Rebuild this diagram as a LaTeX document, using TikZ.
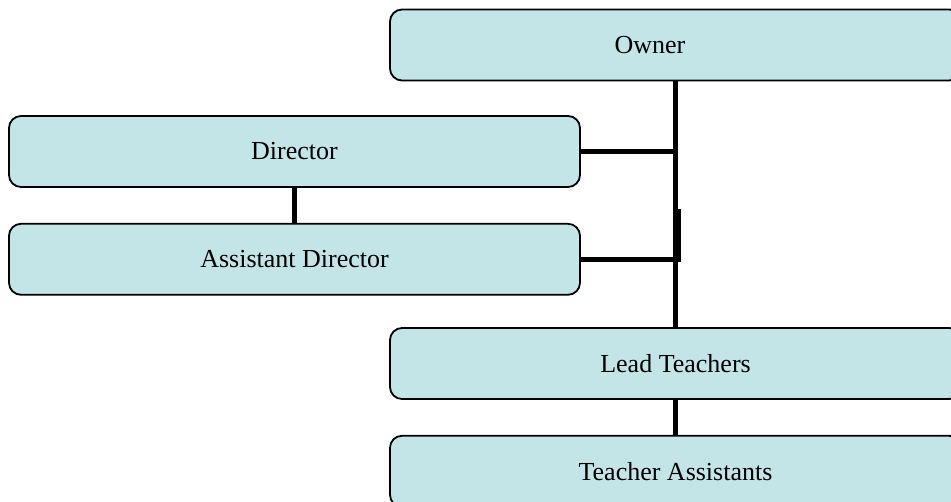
\documentclass[tikz,border=0pt]{standalone}
\usepackage{fontspec}
\setmainfont{Liberation Serif}
\usetikzlibrary{positioning}
\usepackage{xcolor}
\definecolor{boxfill}{RGB}{196,229,232}

\begin{document}
\begin{tikzpicture}[x=0.5pt,y=-0.5pt,
        rolebox/.style={draw=black,line width=0.9pt,fill=boxfill,rounded corners=6pt,
            minimum width=285.5pt,minimum height=35.5pt,inner sep=0pt,
            font=\fontsize{13}{15}\selectfont},
        link/.style={line width=2.8pt,black}]
            \def\W{951}
            \def\H{502}
            \clip (0,0) rectangle (\W,\H);

            \node[rolebox] (owner) at (675.5,45) {};
            \node[font=\fontsize{13}{15}\selectfont] (ownerlabel) at (650,45) {Owner};
            \node[rolebox] (director) at (294.5,151.5) {Director};
            \node[rolebox, below=17.5pt of director] (asst) {Assistant Director};
            \node[rolebox] (lead) at (675.5,363.5) {Lead Teachers};
            \node[rolebox, below=17.5pt of lead] (ta) {Teacher Assistants};

            % second branch starts a little lower on the trunk
            \coordinate (split) at ([xshift=1.2pt]owner.south |- 0,209);

            \draw[link] (owner.south) -- (lead.north);
            \draw[link] (owner.south) |- (director.east);
            \draw[link] (split) |- (asst.east);
            \draw[link] (director.south) -- (asst.north);
            \draw[link] (lead.south) -- (ta.north);
        \end{tikzpicture}
\end{document}
